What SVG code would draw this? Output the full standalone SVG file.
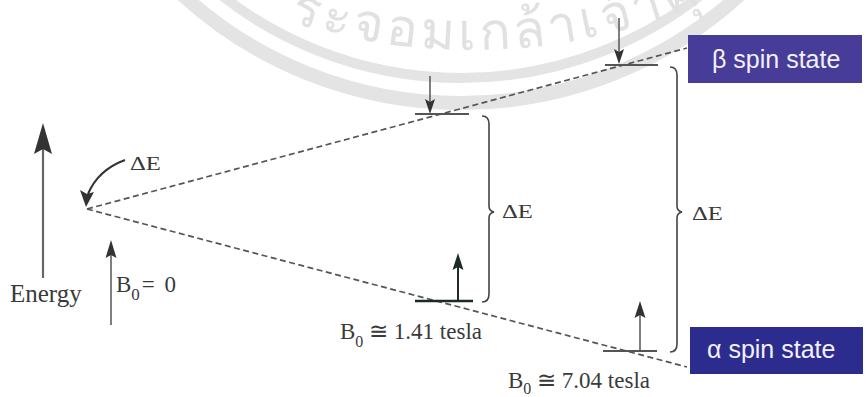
<svg xmlns="http://www.w3.org/2000/svg" width="866" height="397" viewBox="0 0 866 397">
<style>
.wm{fill:none;stroke:#e4e4e4}
.wmt{fill:#e1e1e1;font-family:"Noto Sans","DejaVu Sans",sans-serif;font-size:52px;letter-spacing:4px}
.dash{fill:none;stroke:#555;stroke-width:1.7;stroke-dasharray:6 3.5}
.lvl{stroke:#555;stroke-width:2;fill:none}
.lvld{stroke:#1e2a24;stroke-width:2.5;fill:none}
.ln{stroke:#555;stroke-width:1.5;fill:none}
.brace{stroke:#444;stroke-width:1.6;fill:none}
.head{fill:#333}
.t{font-family:"Liberation Serif","Times New Roman",serif;fill:#3a3a3a}
.bt{font-family:"Liberation Sans",Arial,sans-serif;font-size:25px;fill:#f2f0f8}
</style>
<defs>
<path id="wmarc" d="M264.8,13.8 A600,600 0 0 0 770,-30.4"/>
</defs>
<g id="watermark">
<circle class="wm" cx="461" cy="-310" r="413" stroke-width="14"/>
<circle class="wm" cx="461" cy="-310" r="388" stroke-width="10"/>
<text class="wmt"><textPath href="#wmarc" startOffset="26">ระจอมเกล้าเจ้าคุ</textPath></text>
</g>
<g id="connectors">
<path class="dash" d="M87,209 L687,48"/>
<path class="dash" d="M87,209 L687,367"/>
<path class="brace" d="M482,116 Q489,116 489,124 L489,206 Q489,211 494,212 Q489,213 489,218 L489,294 Q489,302 482,302"/>
<path class="brace" d="M670,67 Q677,67 677,75 L677,206 Q677,211 682,212 Q677,213 677,218 L677,344 Q677,352 670,352"/>
<path d="M125,160 Q98,170 88,194" stroke="#333" stroke-width="2" fill="none"/>
<polygon class="head" points="86,207 80,190 87,194 94,192"/>
</g>
<g id="energy-axis">
<line x1="43" y1="278" x2="43" y2="146" stroke="#666" stroke-width="2.2"/>
<polygon class="head" points="43,123 52,154 43,149 34,154"/>
<text class="t" x="10" y="302" font-size="25">Energy</text>
</g>
<g id="b0-zero">
<line class="ln" x1="111" y1="325" x2="111" y2="252"/>
<polygon class="head" points="111,240 116.5,258 111,255 105.5,258"/>
<text class="t" x="116" y="292" font-size="23">B<tspan font-size="17" dy="8">0</tspan><tspan dy="-8" dx="2">= </tspan><tspan dx="4">0</tspan></text>
<text class="t" transform="translate(130,170) scale(1.3,1)" font-size="19">ΔE</text>
</g>
<g id="level-141">
<line class="lvl" x1="415" y1="114" x2="469" y2="114"/>
<line class="ln" x1="430" y1="76" x2="430" y2="104"/>
<polygon class="head" points="430,114 425,99 430,102 435,99"/>
<line class="lvld" x1="415" y1="301" x2="473" y2="301"/>
<line x1="458" y1="301" x2="458" y2="264" stroke="#1e2a24" stroke-width="2"/>
<polygon points="458,253 463.5,270 458,267 452.5,270" fill="#1e2a24"/>
<text class="t" transform="translate(502,218) scale(1.3,1)" font-size="19">ΔE</text>
<text class="t" x="340" y="339" font-size="23">B<tspan font-size="16" dy="8">0</tspan><tspan dy="-8"> ≅ 1.41 tesla</tspan></text>
</g>
<g id="level-704">
<line class="lvl" x1="605" y1="65" x2="658" y2="65"/>
<line class="ln" x1="619" y1="18" x2="619" y2="52"/>
<polygon class="head" points="619,64 614,49 619,52 624,49"/>
<line class="lvl" x1="603" y1="351" x2="657" y2="351"/>
<line class="ln" x1="640" y1="351" x2="640" y2="312"/>
<polygon class="head" points="640,301 645.5,318 640,315 634.5,318"/>
<text class="t" transform="translate(692,220) scale(1.3,1)" font-size="19">ΔE</text>
<text class="t" x="508" y="388" font-size="23">B<tspan font-size="16" dy="6">0</tspan><tspan dy="-6"> ≅ 7.04 tesla</tspan></text>
</g>
<g id="beta-state">
<rect x="688" y="35" width="174" height="48" fill="#473d98"/>
<text class="bt" x="712" y="68">β spin state</text>
</g>
<g id="alpha-state">
<rect x="690" y="327" width="173" height="47" fill="#2c2b8e"/>
<text class="bt" x="707" y="358">α spin state</text>
</g>
</svg>
